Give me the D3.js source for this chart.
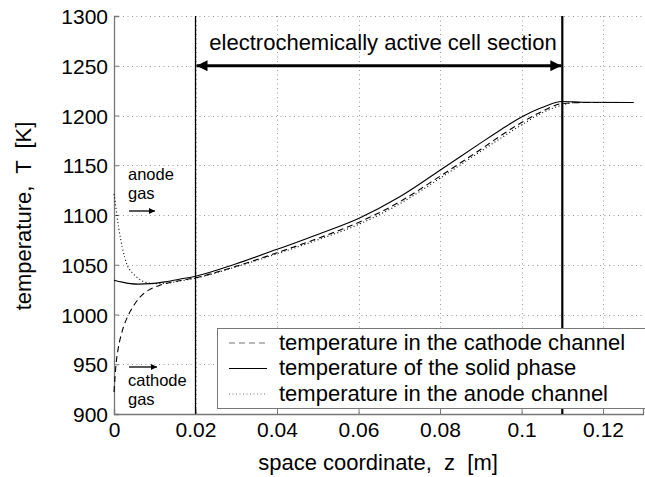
<!DOCTYPE html>
<html>
<head>
<meta charset="utf-8">
<script src="https://cdn.jsdelivr.net/npm/d3@7"></script>
<style>
  body { margin: 0; background: #fff; }
  text { font-family: "Liberation Sans", Arial, sans-serif; fill: #000; white-space: pre; }
</style>
</head>
<body>
<script>
"use strict";

// positions along the cell, z [m], and temperatures [K]
var zCathode = [0, 0.0005, 0.001, 0.002, 0.0036, 0.005, 0.0065, 0.0085, 0.011, 0.0135, 0.016, 0.02,
                0.03, 0.04, 0.05, 0.06, 0.07, 0.08, 0.09, 0.095, 0.1, 0.105, 0.11, 0.115, 0.1275];
var tCathode = [922, 950, 965, 983, 1000, 1010, 1018, 1024.5, 1029, 1032, 1034, 1037,
                1048.5, 1062, 1076.5, 1092.5, 1113, 1139, 1166, 1180, 1193, 1204, 1212, 1213, 1213];

var zSolid = [0, 0.002, 0.004, 0.006, 0.009, 0.012, 0.016, 0.02, 0.03, 0.04, 0.05, 0.06, 0.07, 0.08,
              0.09, 0.095, 0.0975, 0.1, 0.105, 0.11, 0.115, 0.1275];
var tSolid = [1034.5, 1032.5, 1031, 1030.5, 1031, 1032.5, 1035.5, 1038.5, 1051, 1065.5, 1080.5, 1096.5, 1118, 1145,
              1172.5, 1186, 1192.5, 1198.5, 1208, 1214, 1213.3, 1213];

var zAnode = [0, 0.0003, 0.0007, 0.0012, 0.002, 0.0032, 0.0045, 0.0056, 0.0077, 0.010, 0.013, 0.016, 0.02,
              0.03, 0.04, 0.05, 0.06, 0.07, 0.08, 0.09, 0.095, 0.1, 0.105, 0.11, 0.113, 0.1275];
var tAnode = [1121, 1113, 1100, 1086, 1068, 1050, 1042, 1037.5, 1032.5, 1031, 1031.5, 1033.5, 1036.5,
              1048, 1061, 1075, 1090.5, 1111, 1137, 1164, 1177.5, 1190.5, 1202.5, 1210.5, 1213, 1213];

var xTicks = [0, 0.02, 0.04, 0.06, 0.08, 0.1, 0.12];
var yTicks = [900, 950, 1000, 1050, 1100, 1150, 1200, 1250, 1300];

var sectionBounds = [0.02, 0.11];
var legendLabels = ["temperature in the cathode channel",
                    "temperature of the solid phase",
                    "temperature in the anode channel"];

var W = 645, H = 477;
var margin = {left: 114, top: 16, right: 2, bottom: 63};

var svg = d3.select("body").append("svg")
    .attr("width", W).attr("height", H);

var x = d3.scaleLinear().domain([0, 0.1298]).range([margin.left, W - margin.right]);
var y = d3.scaleLinear().domain([900, 1300]).range([H - margin.bottom, margin.top]);

// grid
var grid = svg.append("g").attr("stroke", "#999").attr("stroke-width", 1)
    .attr("stroke-dasharray", "1,3.5");
grid.selectAll("line.gx").data(xTicks.slice(1)).enter().append("line")
    .attr("x1", function (d) { return Math.round(x(d)) + 0.5; })
    .attr("x2", function (d) { return Math.round(x(d)) + 0.5; })
    .attr("y1", y(1300)).attr("y2", y(900));
grid.selectAll("line.gy").data(yTicks.slice(1)).enter().append("line")
    .attr("y1", function (d) { return Math.round(y(d)) + 0.5; })
    .attr("y2", function (d) { return Math.round(y(d)) + 0.5; })
    .attr("x1", x(0)).attr("x2", W);

// axes
var xAxis = d3.axisBottom(x).tickValues(xTicks).tickSize(-5).tickPadding(8)
    .tickFormat(function (d) { return d === 0 ? "0" : String(+d.toFixed(2)); });
var yAxis = d3.axisLeft(y).tickValues(yTicks).tickSize(-5).tickPadding(6)
    .tickFormat(d3.format("d"));

var gx = svg.append("g").attr("transform", "translate(0," + y(900) + ")").call(xAxis);
var gy = svg.append("g").attr("transform", "translate(" + x(0) + ",0)").call(yAxis);
[gx, gy].forEach(function (g) {
  g.select(".domain").attr("stroke", "#777").attr("stroke-width", 1.3);
  g.selectAll(".tick line").attr("stroke", "#777");
  g.selectAll(".tick text").attr("font-size", 21)
    .style("font-family", "'Liberation Sans', Arial, sans-serif").attr("fill", "#000");
});
gy.selectAll(".tick text").attr("dy", "0.36em");

// axis titles
svg.append("text").attr("x", 378).attr("y", 470).attr("text-anchor", "middle")
    .attr("font-size", 22).text("space coordinate,  z  [m]");
svg.append("text").attr("transform", "translate(31,216) rotate(-90)")
    .attr("text-anchor", "middle").attr("font-size", 22).text("temperature,  T  [K]");

// section boundaries
svg.selectAll("line.bound").data(sectionBounds).enter().append("line")
    .attr("x1", function (d) { return x(d); }).attr("x2", function (d) { return x(d); })
    .attr("y1", y(1300)).attr("y2", y(900))
    .attr("stroke", "#000")
    .attr("stroke-width", function (d, i) { return i === 0 ? 1.3 : 2.2; });

// curves
var line = d3.line().curve(d3.curveMonotoneX)
    .x(function (d) { return x(d[0]); }).y(function (d) { return y(d[1]); });
var series = [
  {z: zCathode, t: tCathode, dash: "6,4"},
  {z: zSolid, t: tSolid, dash: null},
  {z: zAnode, t: tAnode, dash: "1,2.5"}
];
series.forEach(function (s) {
  svg.append("path")
    .datum(d3.zip(s.z, s.t))
    .attr("d", line)
    .attr("fill", "none").attr("stroke", "#000").attr("stroke-width", 1.1)
    .attr("stroke-dasharray", s.dash);
});

// arrow markers
var defs = svg.append("defs");
defs.append("marker").attr("id", "head").attr("viewBox", "0 0 10 10")
    .attr("refX", 10).attr("refY", 5).attr("markerUnits", "userSpaceOnUse")
    .attr("markerWidth", 18).attr("markerHeight", 11).attr("orient", "auto-start-reverse")
  .append("path").attr("d", "M0,0 L10,5 L0,10 Z").attr("fill", "#000");
defs.append("marker").attr("id", "small").attr("viewBox", "0 0 10 10")
    .attr("refX", 10).attr("refY", 5).attr("markerUnits", "userSpaceOnUse")
    .attr("markerWidth", 10).attr("markerHeight", 6).attr("orient", "auto")
  .append("path").attr("d", "M0,0 L10,5 L0,10 Z").attr("fill", "#000");

// active section arrow
svg.append("line")
    .attr("x1", x(sectionBounds[0]) + 1).attr("x2", x(sectionBounds[1]) - 1)
    .attr("y1", y(1250)).attr("y2", y(1250))
    .attr("stroke", "#000").attr("stroke-width", 3.2)
    .attr("marker-start", "url(#head)").attr("marker-end", "url(#head)");
svg.append("text").attr("x", 383).attr("y", 50)
    .attr("text-anchor", "middle").attr("font-size", 22)
    .text("electrochemically active cell section");

// inlet annotations
svg.append("text").attr("x", 128).attr("y", 180).attr("font-size", 16.5).text("anode");
svg.append("text").attr("x", 128).attr("y", 199).attr("font-size", 16.5).text("gas");
svg.append("line").attr("x1", 129).attr("x2", 155).attr("y1", 211).attr("y2", 211)
    .attr("stroke", "#000").attr("stroke-width", 1.3).attr("marker-end", "url(#small)");
svg.append("line").attr("x1", 129).attr("x2", 157).attr("y1", 367).attr("y2", 367)
    .attr("stroke", "#000").attr("stroke-width", 1.3).attr("marker-end", "url(#small)");
svg.append("text").attr("x", 128).attr("y", 386).attr("font-size", 16.5).text("cathode");
svg.append("text").attr("x", 128).attr("y", 405).attr("font-size", 16.5).text("gas");

// legend
var leg = svg.append("g");
leg.append("rect").attr("x", 217.5).attr("y", 328.5).attr("width", 430).attr("height", 80)
    .attr("fill", "#fff").attr("stroke", "#777").attr("stroke-width", 1);
legendLabels.forEach(function (lab, i) {
  var ly = 343 + i * 25.5;
  leg.append("line").attr("x1", 229).attr("x2", 267).attr("y1", ly).attr("y2", ly)
    .attr("stroke", i === 1 ? "#000" : "#777").attr("stroke-width", 1.1)
    .attr("stroke-dasharray", series[i].dash);
  leg.append("text").attr("x", 279).attr("y", ly + 6.5).attr("font-size", 22).text(lab);
});
</script>
</body>
</html>
